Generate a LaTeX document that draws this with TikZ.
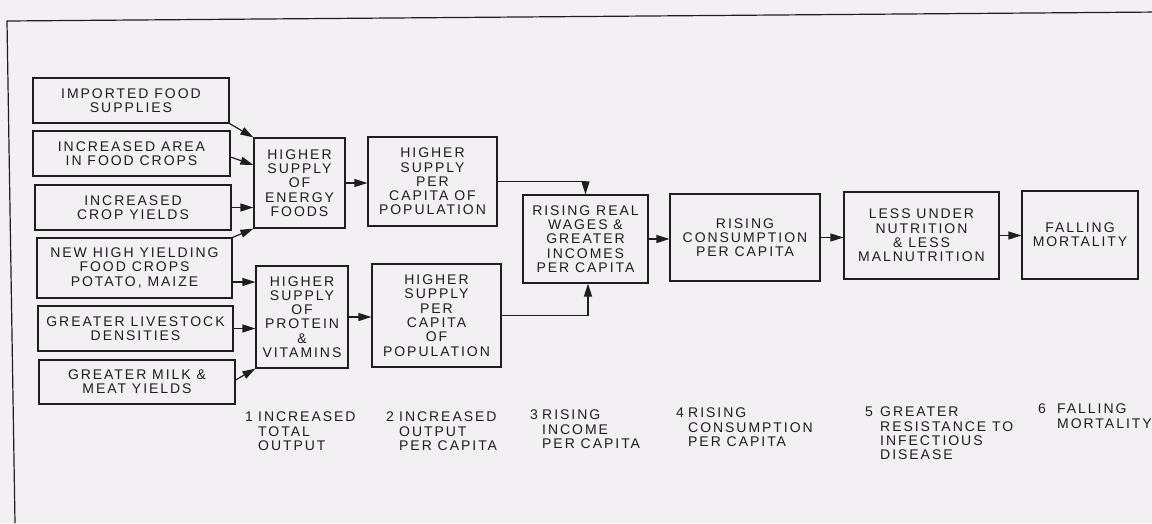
\documentclass[tikz,border=0pt]{standalone}
\usepackage{fontspec}
\newfontfamily\lbl[LetterSpace=14]{Liberation Sans}
\usetikzlibrary{arrows.meta,calc}
\definecolor{paper}{RGB}{242,240,242}
\definecolor{ink}{RGB}{30,30,30}
\begin{document}
\begin{tikzpicture}[x=1pt,y=-1pt,
  box/.style={draw=ink, line width=1.2pt, align=center, inner sep=0pt, text=ink,
    font=\lbl\fontsize{14}{14.3}\selectfont},
  lab/.style={align=left, inner sep=0pt, anchor=north west, text=ink,
    font=\lbl\fontsize{14}{14.3}\selectfont},
  arr/.style={draw=ink, line width=1.2pt, -{Triangle[length=13pt,width=8pt]}}]
\fill[paper] (0,0) rectangle (1152,523);
\useasboundingbox (0,0) rectangle (1152,523);
% outer frame (cropped)
\draw[ink, line width=1.2pt] (15,523) -- (7,21) -- (1160,12);
% input boxes
\node[box, minimum width=196pt, minimum height=45pt] (imp) at (131,100.5) {IMPORTED FOOD\\SUPPLIES};
\node[box, minimum width=197pt, minimum height=45pt] (area) at (131.5,153.5) {INCREASED AREA\\IN FOOD CROPS};
\node[box, minimum width=196pt, minimum height=45pt] (yld) at (133,207.5) {INCREASED\\CROP YIELDS};
\node[box, minimum width=195pt, minimum height=60pt] (newc) at (134.5,268) {NEW HIGH YIELDING\\FOOD CROPS\\POTATO, MAIZE};
\node[box, minimum width=195pt, minimum height=45pt] (live) at (135.5,328.5) {GREATER LIVESTOCK\\DENSITIES};
\node[box, minimum width=196pt, minimum height=44pt] (milk) at (137,382) {GREATER MILK \&\\MEAT YIELDS};
% supply boxes
\node[box, minimum width=91pt, minimum height=90pt] (energy) at (299.5,183) {HIGHER\\SUPPLY\\OF\\ENERGY\\FOODS};
\node[box, minimum width=92pt, minimum height=102pt] (protein) at (302,317) {HIGHER\\SUPPLY\\OF\\PROTEIN\\\&\\VITAMINS};
\node[box, minimum width=129pt, minimum height=89pt] (pc1) at (432.5,181.5) {HIGHER\\SUPPLY\\PER\\CAPITA OF\\POPULATION};
\node[box, minimum width=129pt, minimum height=103pt] (pc2) at (436.5,315.5) {HIGHER\\SUPPLY\\PER\\CAPITA\\OF\\POPULATION};
% chain
\node[box, minimum width=125pt, minimum height=88pt] (wages) at (585.5,239) {RISING REAL\\WAGES \&\\GREATER\\INCOMES\\PER CAPITA};
\node[box, minimum width=150pt, minimum height=87pt] (cons) at (745,237.5) {RISING\\CONSUMPTION\\PER CAPITA};
\node[box, minimum width=155pt, minimum height=87pt] (less) at (921.5,235.5) {LESS UNDER\\NUTRITION\\\& LESS\\MALNUTRITION};
\node[box, minimum width=116pt, minimum height=88pt] (fall) at (1080,235) {FALLING\\MORTALITY};
% helper coordinates
\coordinate (areaout) at ($(area.east)+(0,3.5)$);
\coordinate (energyin) at ($(energy.west)+(0,-18)$);
\coordinate (newcout) at ($(newc.east)+(0,14)$);
\coordinate (milkout) at ($(milk.east)+(0,-2)$);
\coordinate (wagesin) at ($(wages.south)+(2.5,0)$);
% arrows
\draw[arr] (imp.south east) -- (energy.north west);
\draw[arr] (areaout) -- (energyin);
\draw[arr] (yld.east) -- (yld.east -| energy.west);
\draw[arr] (newc.north east) -- (energy.south west);
\draw[arr] (newcout) -- (newcout -| protein.west);
\draw[arr] (live.east) -- (live.east -| protein.west);
\draw[arr] (milkout) -- (protein.south west);
\draw[arr] (energy.east) -- (energy.east -| pc1.west);
\draw[arr] (protein.east) -- (protein.east -| pc2.west);
\draw[arr] (pc1.east) -| (wages.north);
\draw[arr] (pc2.east) -| (wagesin);
\draw[arr] (wages.east) -- (wages.east -| cons.west);
\draw[arr] (cons.east) -- (cons.east -| less.west);
\draw[arr] (less.east) -- (less.east -| fall.west);
% stage labels
\node[lab] (n1) at (245,412) {1};
\node[lab] (l1) at (258,412) {INCREASED\\TOTAL\\OUTPUT};
\node[lab] (n2) at (386,412) {2};
\node[lab] (l2) at (399,412) {INCREASED\\OUTPUT\\PER CAPITA};
\node[lab] (n3) at (530,410) {3};
\node[lab] (l3) at (542,410) {RISING\\INCOME\\PER CAPITA};
\node[lab] (n4) at (676,408) {4};
\node[lab] (l4) at (688,408) {RISING\\CONSUMPTION\\PER CAPITA};
\node[lab] (n5) at (865,407) {5};
\node[lab] (l5) at (880,407) {GREATER\\RESISTANCE TO\\INFECTIOUS\\DISEASE};
\node[lab] (n6) at (1038,404) {6};
\node[lab] (l6) at (1057,404) {FALLING\\MORTALITY};
\end{tikzpicture}
\end{document}
